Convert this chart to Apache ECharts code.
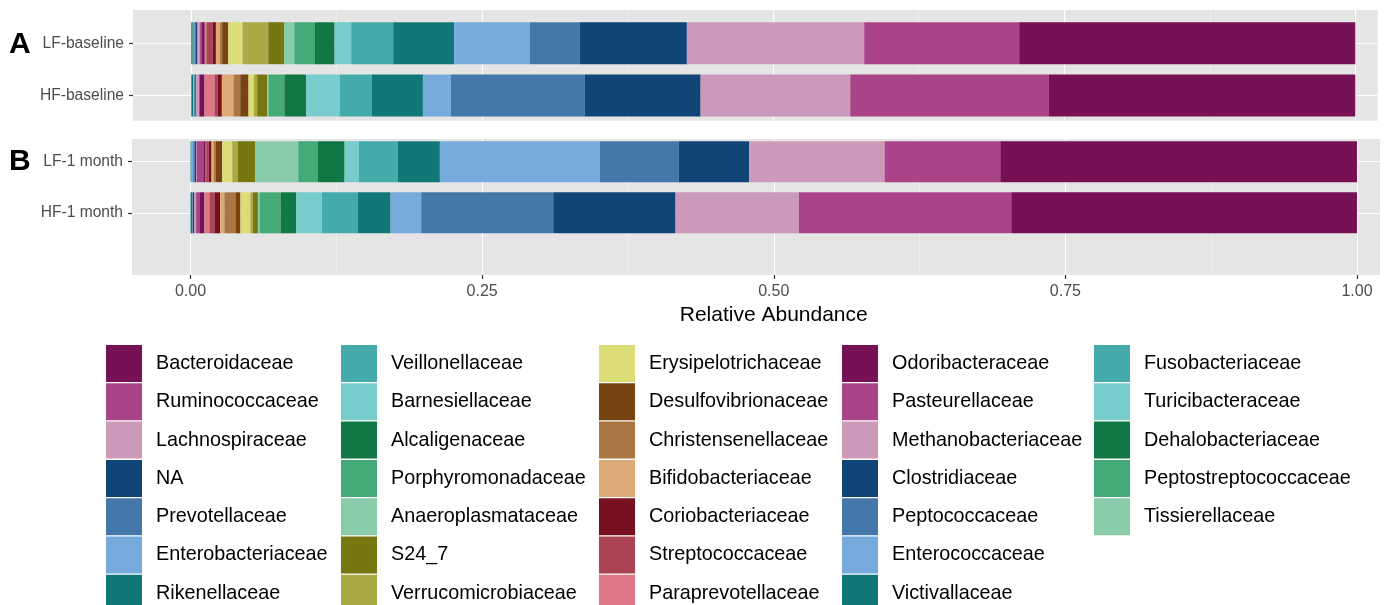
<!DOCTYPE html>
<html><head><meta charset="utf-8">
<script src="https://cdn.jsdelivr.net/npm/echarts@6/dist/echarts.min.js"></script>
<style>html,body{margin:0;padding:0;background:#fff}#chart{width:1388px;height:605px}</style>
</head><body><div id="chart"></div>
<script>
const families = ['Bacteroidaceae','Ruminococcaceae','Lachnospiraceae','NA','Prevotellaceae','Enterobacteriaceae','Rikenellaceae',
  'Veillonellaceae','Barnesiellaceae','Alcaligenaceae','Porphyromonadaceae','Anaeroplasmataceae','S24_7','Verrucomicrobiaceae',
  'Erysipelotrichaceae','Desulfovibrionaceae','Christensenellaceae','Bifidobacteriaceae','Coriobacteriaceae','Streptococcaceae','Paraprevotellaceae',
  'Odoribacteraceae','Pasteurellaceae','Methanobacteriaceae','Clostridiaceae','Peptococcaceae','Enterococcaceae','Victivallaceae',
  'Fusobacteriaceae','Turicibacteraceae','Dehalobacteriaceae','Peptostreptococcaceae','Tissierellaceae'];
const familyColors = ['#771155','#AA4488','#CC99BB','#114477','#4477AA','#77AADD','#117777',
  '#44AAAA','#77CCCC','#117744','#44AA77','#88CCAA','#777711','#AAAA44',
  '#DDDD77','#774411','#AA7744','#DDAA77','#771122','#AA4455','#DD7788',
  '#771155','#AA4488','#CC99BB','#114477','#4477AA','#77AADD','#117777',
  '#44AAAA','#77CCCC','#117744','#44AA77','#88CCAA'];
const panelACategories = ['LF-baseline','HF-baseline'];
const panelBCategories = ['LF-1 month','HF-1 month'];
const xMajorTicks = [0, 0.25, 0.5, 0.75, 1];
const xMinorTicks = [0.125, 0.375, 0.625, 0.875];
// values in the same order as families
const lfBaseline = [0.2887,0.1331,0.1523,0.0922,0.0426,0.0650,0.0524,
  0.0361,0.0143,0.0168,0.0178,0.0088,0.0135,0.0221,
  0.0123,0.0052,0.0020,0.0034,0.0029,0.0052,0.0015,
  0.0023,0.0017,0.0023,0.0017,0.0009,0.0006,0.0009,
  0,0,0.0003,0.0011,0];
const hfBaseline = [0.2631,0.1707,0.1285,0.0994,0.1151,0.0240,0.0438,
  0.0277,0.0289,0.0186,0.0137,0.0011,0.0086,0.0028,
  0.0046,0.0071,0.0058,0.0100,0.0034,0.0029,0.0086,
  0.0043,0.0004,0.0023,0.0009,0.0009,0.0009,0.0011,
  0,0,0.0003,0.0005,0];
const lf1Month = [0.3058,0.0992,0.1162,0.0604,0.0674,0.1372,0.0360,
  0.0334,0.0123,0.0228,0.0169,0.0371,0.0146,0.0049,
  0.0086,0.0057,0.0015,0.0020,0.0023,0.0023,0.0004,
  0.0020,0.0057,0.0004,0.0012,0.0014,0.0019,0.0004,
  0,0,0,0,0];
const hf1Month = [0.2964,0.1820,0.1058,0.1048,0.1132,0.0263,0.0279,
  0.0309,0.0220,0.0135,0.0180,0.0014,0.0043,0.0021,
  0.0086,0.0043,0.0094,0.0037,0.0049,0.0043,0.0043,
  0.0043,0.0028,0.0015,0.0014,0.0003,0.0003,0.0013,
  0,0,0,0,0];

const FONT = "'Liberation Sans', Arial, Helvetica, sans-serif";
const panels = [
  {top:10, bottom:120.7, left:133, right:1377.7, zero:191, one:1355.3, barTop:17.05, barHeight:104.6, barWidth:42,
   cats:panelACategories, values:[lfBaseline, hfBaseline], showX:false},
  {top:139, bottom:275, left:132, right:1380, zero:190.5, one:1357, barTop:136.15, barHeight:102.2, barWidth:41,
   cats:panelBCategories, values:[lf1Month, hf1Month], showX:true}
];

const grid = [], xAxis = [], yAxis = [], series = [];
panels.forEach((P, p) => {
  const span = P.one - P.zero;
  const xmin = (P.left - P.zero) / span, xmax = (P.right - P.zero) / span;
  const band = P.barHeight / P.cats.length;
  const ymin = (P.top - P.barTop) / band - 0.5, ymax = (P.bottom - P.barTop) / band - 0.5;
  grid.push({left:P.left, top:P.top, width:P.right-P.left, height:P.bottom-P.top, show:true, backgroundColor:'#e5e5e5', borderWidth:0});
  grid.push({left:P.left, top:P.barTop, width:P.one-P.left, height:P.barHeight});
  const bg = p*2, bar = p*2+1;
  xAxis.push({gridIndex:bg, type:'value', position:'bottom', min:xmin, max:xmax,
    axisLine:{show:false, onZero:false},
    axisTick:{show:P.showX, customValues:xMajorTicks, length:4, lineStyle:{color:'#333', width:1.2}},
    axisLabel:{show:P.showX, customValues:xMajorTicks, formatter:v=>v.toFixed(2), fontSize:16, color:'#4d4d4d', margin:9, fontFamily:FONT},
    splitLine:{show:true, lineStyle:{color:'#ffffff', width:1.1}}});
  xAxis.push({gridIndex:bg, type:'value', position:'top', min:xmin, max:xmax,
    axisLine:{show:false, onZero:false}, axisTick:{show:false, customValues:xMinorTicks}, axisLabel:{show:false},
    splitLine:{show:true, lineStyle:{color:'#f4f4f4', width:0.6}}});
  xAxis.push({gridIndex:bar, type:'value', min:xmin, max:1,
    axisLine:{show:false, onZero:false}, axisTick:{show:false}, axisLabel:{show:false}, splitLine:{show:false}});
  yAxis.push({gridIndex:bg, type:'value', inverse:true, min:ymin, max:ymax,
    axisLine:{show:false, onZero:false}, axisTick:{show:false, customValues:P.cats.map((c,i)=>i)}, axisLabel:{show:false},
    splitLine:{show:true, lineStyle:{color:'#ffffff', width:1.1}}});
  yAxis.push({gridIndex:bar, type:'category', data:P.cats, inverse:true,
    axisLine:{show:false, onZero:false},
    axisTick:{show:true, alignWithLabel:true, length:4, lineStyle:{color:'#333', width:1.2}},
    axisLabel:{fontSize:15.6, color:'#4d4d4d', margin:9, fontFamily:FONT},
    splitLine:{show:false}});
  for (let f = families.length - 1; f >= 0; f--) {
    series.push({type:'bar', name:families[f], xAxisIndex:p*3+2, yAxisIndex:p*2+1, stack:'panel'+p,
      barWidth:P.barWidth, itemStyle:{color:familyColors[f]}, emphasis:{disabled:true},
      data:P.values.map(arr => arr[f])});
  }
});

const legendCols = [[0,7,106],[7,14,341],[14,21,599],[21,28,842],[28,33,1094]];
const legend = legendCols.map(([a,b,x]) => ({
  data:families.slice(a,b), orient:'vertical', left:x, top:345, height:300, padding:0,
  itemWidth:36, itemHeight:37, itemGap:1.3, icon:'rect', selectedMode:false,
  textStyle:{fontSize:19.8, color:'#000', fontFamily:FONT, padding:[0,0,0,9]}
}));

const chart = echarts.init(document.getElementById('chart'), null, {renderer:'canvas'});
chart.setOption({
  animation:false,
  backgroundColor:'#ffffff',
  textStyle:{fontFamily:FONT},
  grid, xAxis, yAxis, series, legend,
  title:{text:'Relative Abundance', left:(panels[1].zero + panels[1].one) / 2, top:305, textAlign:'center', padding:0,
    textStyle:{fontSize:21, fontWeight:'normal', color:'#000', fontFamily:FONT}},
  graphic:[
    {type:'text', left:9, top:30, style:{text:'A', font:'bold 30px ' + FONT, fill:'#000'}},
    {type:'text', left:9, top:147, style:{text:'B', font:'bold 30px ' + FONT, fill:'#000'}}
  ]
});
</script></body></html>
